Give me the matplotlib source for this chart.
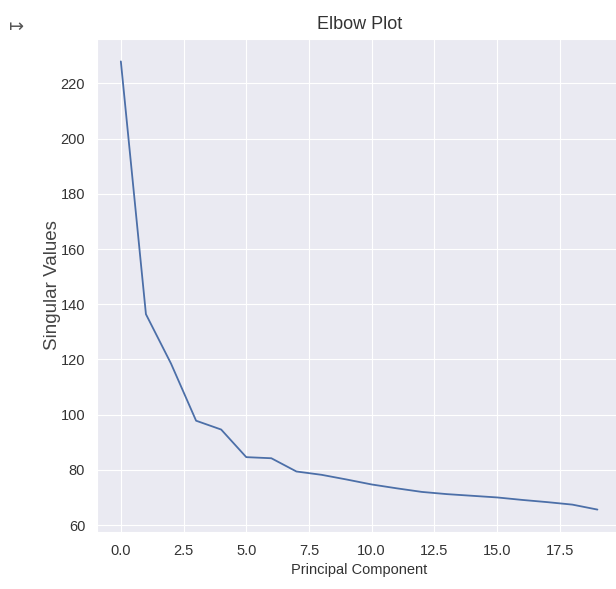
import numpy as np
import matplotlib.pyplot as plt
import seaborn as sns

# singular values
components = np.arange(20)
singular_values = [228.0, 136.4, 118.5, 97.8, 94.6, 84.6, 84.2, 79.4, 78.2, 76.5,
                   74.7, 73.3, 72.0, 71.2, 70.6, 70.0, 69.1, 68.3, 67.4, 65.6]
x_ticks = [0.0, 2.5, 5.0, 7.5, 10.0, 12.5, 15.0, 17.5]
y_ticks = [60, 80, 100, 120, 140, 160, 180, 200, 220]

sns.set_style('darkgrid')
plt.rcParams['font.family'] = ['Liberation Sans', 'DejaVu Sans']

fig = plt.figure(figsize=(6.16, 5.89), dpi=100)
ax = fig.add_axes([0.1575, 0.0968, 0.851, 0.837])

ax.plot(components, singular_values, color='#4C6FA8', lw=1.3)
ax.set_xticks(x_ticks)
ax.set_yticks(y_ticks)
ax.tick_params(labelsize=10.5, colors='#333333', pad=5)

ax.set_title('Elbow Plot', fontsize=13, color='#333333', pad=7)
ax.set_xlabel('Principal Component', fontsize=10.5, color='#333333', labelpad=4)
ax.set_ylabel('Singular Values', fontsize=13.5, color='#444444', labelpad=0)

# colab output icon in the corner
fig.text(0.027, 0.955, '\u21a6', fontsize=13, color='#555555',
         family='DejaVu Sans', ha='center', va='center')

fig.savefig('out.png', dpi=100)
